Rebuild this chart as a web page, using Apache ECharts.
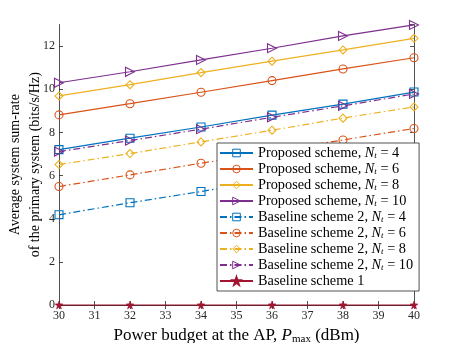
<!DOCTYPE html>
<html>
<head>
<meta charset="utf-8">
<script src="https://cdn.jsdelivr.net/npm/echarts@6/dist/echarts.min.js"></script>
<style>
  html, body { margin: 0; padding: 0; background: #fff; }
  #chart { width: 457px; height: 343px; }
</style>
</head>
<body>
<div id="chart"></div>
<script>
// power budget points (dBm)
const xPoints = [30, 32, 34, 36, 38, 40];
const xTicks = [30, 31, 32, 33, 34, 35, 36, 37, 38, 39, 40];
const yTicks = [0, 2, 4, 6, 8, 10, 12];

const propN4 = [7.20, 7.73, 8.25, 8.80, 9.31, 9.87];
const propN6 = [8.81, 9.33, 9.86, 10.40, 10.94, 11.46];
const propN8 = [9.69, 10.21, 10.77, 11.30, 11.82, 12.36];
const propN10 = [10.30, 10.81, 11.36, 11.90, 12.47, 12.98];
const baseN4 = [4.18, 4.74, 5.26, 5.80, 6.36, 6.91];
const baseN6 = [5.49, 6.03, 6.57, 7.10, 7.65, 8.18];
const baseN8 = [6.51, 7.02, 7.56, 8.10, 8.66, 9.18];
const baseN10 = [7.11, 7.62, 8.15, 8.70, 9.23, 9.78];
const base1 = [0, 0, 0, 0, 0, 0];

const FONT = "Liberation Serif";
const AXIS = "#262626";
const triRight = "path://M0,0 L10,5 L0,10 Z";
const star = "path://M5,0 L6.2,3.4 L10,3.6 L7,5.9 L8.1,9.6 L5,7.4 L1.9,9.6 L3,5.9 L0,3.6 L3.8,3.4 Z";
const clear = "rgba(0,0,0,0)";

function mk(name, vals, color, symbol, dashed) {
  return {
    name: name,
    type: "line",
    data: vals.map((v, i) => [xPoints[i], v]),
    symbol: symbol,
    symbolSize: symbol === star ? 8 : (symbol === triRight ? 9 : 8),
    clip: false,
    lineStyle: { color: color, width: 1.2, type: dashed ? [7, 3, 1.5, 3] : "solid" },
    itemStyle: symbol === star
      ? { color: color, borderColor: color, borderWidth: 0.5 }
      : { color: clear, borderColor: color, borderWidth: 1.1 },
    emphasis: { disabled: true }
  };
}

const series = [
  mk("Proposed scheme, Nt = 4", propN4, "#0072BD", "rect", false),
  mk("Proposed scheme, Nt = 6", propN6, "#D95319", "circle", false),
  mk("Proposed scheme, Nt = 8", propN8, "#EDB120", "diamond", false),
  mk("Proposed scheme, Nt = 10", propN10, "#7E2F8E", triRight, false),
  mk("Baseline scheme 2, Nt = 4", baseN4, "#0072BD", "rect", true),
  mk("Baseline scheme 2, Nt = 6", baseN6, "#D95319", "circle", true),
  mk("Baseline scheme 2, Nt = 8", baseN8, "#EDB120", "diamond", true),
  mk("Baseline scheme 2, Nt = 10", baseN10, "#7E2F8E", triRight, true),
  mk("Baseline scheme 1", base1, "#A2142F", star, false)
];

const frameAxis = {
  axisLine: { show: true, lineStyle: { color: AXIS, width: 0.8 } },
  axisTick: { show: true, inside: true, length: 4, lineStyle: { color: AXIS, width: 0.8 } },
  splitLine: { show: false }
};

const chart = echarts.init(document.getElementById("chart"), null, { renderer: "canvas" });
chart.setOption({
  animation: false,
  backgroundColor: "#fff",
  grid: { left: 59, right: 43, top: 24.5, bottom: 38, outerBoundsMode: "none", containLabel: false },
  legend: {
    orient: "vertical",
    left: 217,
    top: 143,
    padding: [3, 6, 3, 2],
    itemWidth: 33,
    itemHeight: 9.5,
    itemGap: 2,
    backgroundColor: "#fff",
    borderColor: AXIS,
    borderWidth: 0.8,
    borderRadius: 0,
    data: series.map(s => ({
      name: s.name,
      itemStyle: s.symbol === star ? { color: s.lineStyle.color } : { color: clear, borderColor: s.lineStyle.color, borderWidth: 1 }
    })),
    formatter: n => n.replace("Nt", "{i|N}{s|t}"),
    textStyle: {
      fontFamily: FONT, fontSize: 14.3, color: "#000", lineHeight: 14,
      rich: {
        i: { fontFamily: FONT, fontSize: 14.3, fontStyle: "italic", color: "#000", lineHeight: 14 },
        s: { fontFamily: FONT, fontSize: 9, fontStyle: "italic", color: "#000", verticalAlign: "bottom", padding: [6, 0, 0, 0] }
      }
    }
  },
  xAxis: [
    Object.assign({
      type: "value", min: 30, max: 40, interval: 1,
      name: "Power budget at the AP, {i|P}{s|max} (dBm)",
      nameLocation: "middle", nameGap: 20,
      nameTextStyle: {
        fontFamily: FONT, fontSize: 17, color: "#000",
        rich: {
          i: { fontFamily: FONT, fontSize: 17, fontStyle: "italic", color: "#000" },
          s: { fontFamily: FONT, fontSize: 11, color: "#000", verticalAlign: "bottom", padding: [8, 0, 0, 0] }
        }
      },
      axisLabel: { fontFamily: FONT, fontSize: 12, color: AXIS, margin: 5,
        formatter: v => xTicks.indexOf(v) >= 0 ? String(v) : "" }
    }, frameAxis),
    Object.assign({
      type: "value", min: 30, max: 40, interval: 1, position: "top",
      axisLabel: { show: false }
    }, frameAxis)
  ],
  yAxis: [
    Object.assign({
      type: "value", min: 0, max: 13, interval: 2,
      name: "Average system sum-rate\nof the primary system (bits/s/Hz)",
      nameLocation: "middle", nameGap: 14, nameRotate: 90, nameMoveOverlap: false,
      nameTextStyle: { fontFamily: FONT, fontSize: 14, color: "#000", lineHeight: 19.5 },
      axisLabel: { fontFamily: FONT, fontSize: 12, color: AXIS, margin: 4, showMaxLabel: false,
        formatter: v => yTicks.indexOf(v) >= 0 ? String(v) : "" }
    }, frameAxis),
    Object.assign({
      type: "value", min: 0, max: 13, interval: 2, position: "right",
      axisLabel: { show: false }
    }, frameAxis)
  ],
  series: series
});
</script>
</body>
</html>
